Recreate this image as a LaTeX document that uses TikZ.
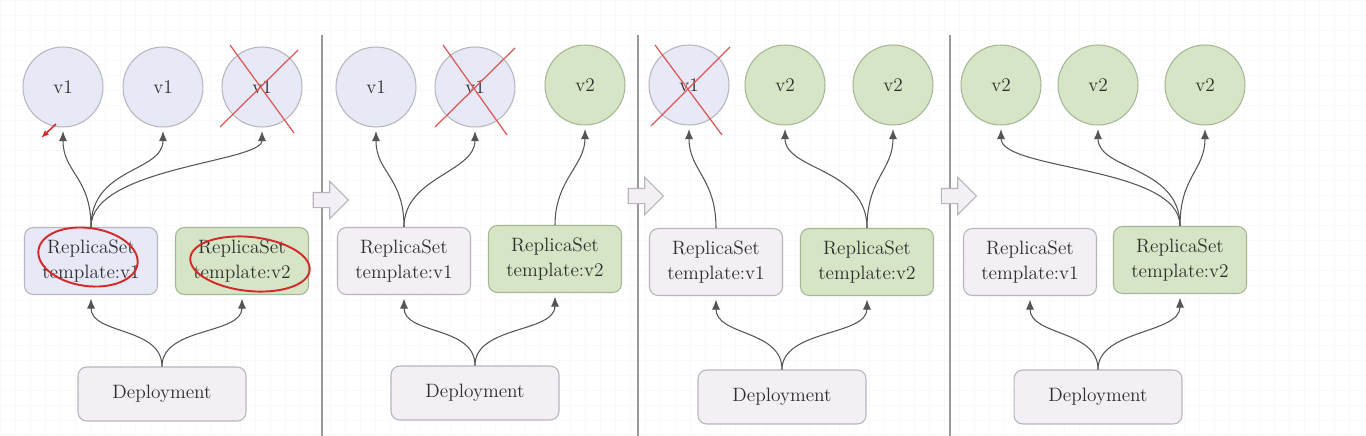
\documentclass[tikz,border=0pt]{standalone}
\usepackage{tikz}
\usetikzlibrary{arrows.meta,shapes.arrows}

\definecolor{vonefill}{HTML}{E7E9F7}
\definecolor{vtwofill}{HTML}{D6E5C6}
\definecolor{vtwoline}{HTML}{A6B795}
\definecolor{boxfill}{HTML}{F3EFF4}
\definecolor{boxline}{HTML}{B9B5BE}
\definecolor{linkcol}{HTML}{555555}
\definecolor{inkred}{HTML}{D42A2A}
\definecolor{txt}{HTML}{2E2E2E}

\tikzset{
  pod/.style={circle, minimum size=1.6cm, inner sep=0pt, line width=0.6pt, text=txt, font=\fontsize{11}{13}\selectfont},
  podone/.style={pod, draw=boxline, fill=vonefill},
  podtwo/.style={pod, draw=vtwoline, fill=vtwofill},
  rsbox/.style={rectangle, rounded corners=5pt, minimum width=2.66cm, minimum height=1.34cm, align=center, line width=0.6pt, text=txt, font=\fontsize{11}{14}\selectfont},
  rsone/.style={rsbox, draw=boxline, fill=boxfill},
  rstwo/.style={rsbox, draw=vtwoline, fill=vtwofill},
  deploy/.style={rectangle, rounded corners=5pt, minimum width=3.36cm, minimum height=1.08cm, draw=boxline, fill=boxfill, line width=0.6pt, text=txt, font=\fontsize{11}{13}\selectfont},
  link/.style={draw=linkcol, line width=0.6pt, -{Latex[length=2mm,width=1.6mm]}, shorten >=2pt},
  kill/.style={draw=inkred!80, line width=0.7pt},
  scribble/.style={draw=inkred, line width=1.1pt},
  divider/.style={draw=gray!80, line width=0.8pt},
  nextstep/.style={single arrow, draw=boxline, fill=boxfill, minimum height=0.7cm, inner xsep=0pt, inner ysep=0.14cm, single arrow head extend=0.22cm, line width=0.6pt}
}

\begin{document}
\begin{tikzpicture}[x=0.02cm, y=-0.02cm]
\useasboundingbox (0,0) rectangle (1366,436);
\fill[white] (0,0) rectangle (1366,436);
% faint grid in the background
\draw[gray!5, step=0.3cm] (0,0) grid (1366,436);

% dividers and step arrows
\draw[divider] (322,35) -- (322,436);
\draw[divider] (638,35) -- (638,436);
\draw[divider] (950,35) -- (950,436);
\node[nextstep] (s1) at (327,200) {};
\node[nextstep] (s2) at (642,196) {};
\node[nextstep] (s3) at (955,196) {};

% panel 1
\node[podone] (a1) at (63,87) {v1};
\node[podone] (a2) at (163,87) {v1};
\node[podone] (a3) at (262,87) {v1};
\node[rsbox, draw=boxline, fill=vonefill] (ra1) at (91,261) {ReplicaSet\\template:v1};
\node[rstwo] (ra2) at (242,261) {ReplicaSet\\template:v2};
\node[deploy] (da) at (162,394) {Deployment};
\draw[link] (ra1.north) .. controls +(0,-50) and +(0,45) .. (a1.south);
\draw[link] (ra1.north) .. controls +(0,-60) and +(0,45) .. (a2.south);
\draw[link] (ra1.north) .. controls +(0,-60) and +(0,35) .. (a3.south);
\draw[link] (da.north) .. controls +(0,-40) and +(0,40) .. (ra1.south);
\draw[link] (da.north) .. controls +(0,-40) and +(0,40) .. (ra2.south);
\draw[kill] (230,45) -- (294,133);
\draw[kill] (298,50) -- (220,127);
\draw[scribble, rotate around={-8:(88,257)}] (88,257) ellipse [x radius=50, y radius=29];
\draw[scribble, rotate around={-6:(250,264)}] (250,264) ellipse [x radius=60, y radius=27];
\draw[inkred, line width=0.9pt, -{Latex[length=1.6mm]}] (56,124) -- (41,138);

% panel 2
\node[podone] (b1) at (376,87) {v1};
\node[podone] (b2) at (475,87) {v1};
\node[podtwo] (b3) at (585,85) {v2};
\node[rsone] (rb1) at (404,261) {ReplicaSet\\template:v1};
\node[rstwo] (rb2) at (555,259) {ReplicaSet\\template:v2};
\node[deploy] (db) at (475,393) {Deployment};
\draw[link] (rb1.north) .. controls +(0,-50) and +(0,45) .. (b1.south);
\draw[link] (rb1.north) .. controls +(0,-50) and +(0,45) .. (b2.south);
\draw[link] (rb2.north) .. controls +(0,-45) and +(0,40) .. (b3.south);
\draw[link] (db.north) .. controls +(0,-40) and +(0,40) .. (rb1.south);
\draw[link] (db.north) .. controls +(0,-40) and +(0,40) .. (rb2.south);
\draw[kill] (443,45) -- (507,135);
\draw[kill] (515,48) -- (435,127);

% panel 3
\node[podone] (c1) at (689,85) {v1};
\node[podtwo] (c2) at (785,85) {v2};
\node[podtwo] (c3) at (893,85) {v2};
\node[rsone] (rc1) at (716,262) {ReplicaSet\\template:v1};
\node[rstwo] (rc2) at (867,262) {ReplicaSet\\template:v2};
\node[deploy] (dc) at (782,397) {Deployment};
\draw[link] (rc1.north) .. controls +(0,-50) and +(0,45) .. (c1.south);
\draw[link] (rc2.north) .. controls +(0,-60) and +(0,45) .. (c2.south);
\draw[link] (rc2.north) .. controls +(0,-50) and +(0,45) .. (c3.south);
\draw[link] (dc.north) .. controls +(0,-40) and +(0,40) .. (rc1.south);
\draw[link] (dc.north) .. controls +(0,-40) and +(0,40) .. (rc2.south);
\draw[kill] (655,45) -- (722,135);
\draw[kill] (730,47) -- (651,126);

% panel 4
\node[podtwo] (d1) at (1001,85) {v2};
\node[podtwo] (d2) at (1098,85) {v2};
\node[podtwo] (d3) at (1205,85) {v2};
\node[rsone] (rd1) at (1030,262) {ReplicaSet\\template:v1};
\node[rstwo] (rd2) at (1180,260) {ReplicaSet\\template:v2};
\node[deploy] (dd) at (1098,397) {Deployment};
\draw[link] (rd2.north) .. controls +(0,-60) and +(0,45) .. (d1.south);
\draw[link] (rd2.north) .. controls +(0,-60) and +(0,45) .. (d2.south);
\draw[link] (rd2.north) .. controls +(0,-50) and +(0,45) .. (d3.south);
\draw[link] (dd.north) .. controls +(0,-40) and +(0,40) .. (rd1.south);
\draw[link] (dd.north) .. controls +(0,-40) and +(0,40) .. (rd2.south);
\end{tikzpicture}
\end{document}
